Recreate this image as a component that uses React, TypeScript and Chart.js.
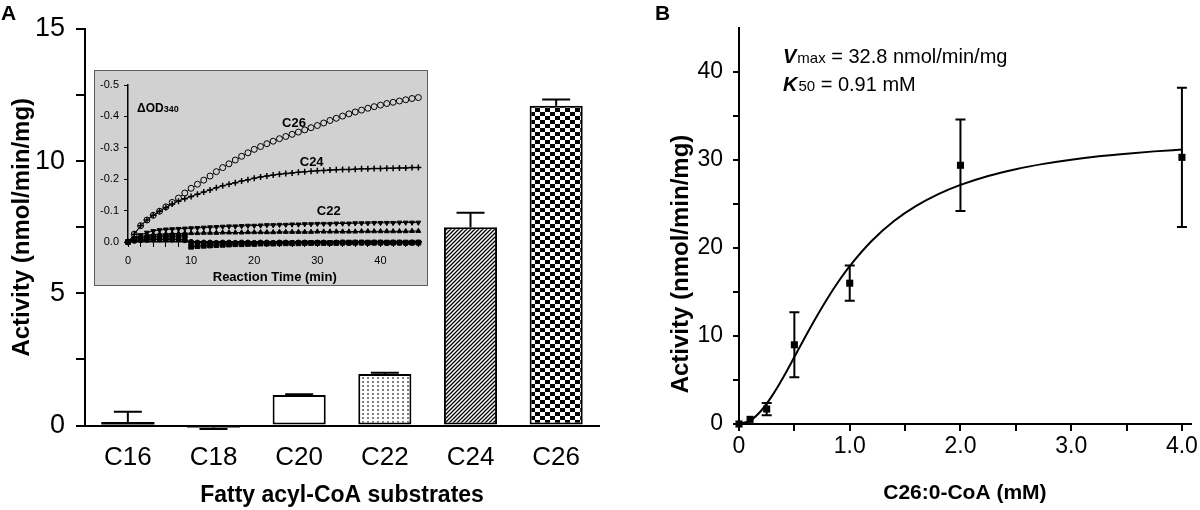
import React, { useEffect, useRef } from "react";
import { Chart, registerables } from "chart.js";

Chart.register(...registerables);

const FF = "'Liberation Sans', Arial, Helvetica, sans-serif";

// ---------------- Panel A: bar chart ----------------
const substrates = ["C16", "C18", "C20", "C22", "C24", "C26"];
const activity = [0.13, -0.08, 1.15, 1.95, 7.5, 12.1];
const activityErr = [0.39, 0.05, 0.03, 0.05, 0.55, 0.23];
const barFillKinds = ["solid", "solid", "white", "dots", "hatch", "check"];
const barBorderWidths = [0, 0, 2, 2, 2, 2];

// ---------------- Inset: ΔOD340 vs time ----------------
const timeMin = [
  0, 1, 2, 3, 4, 5, 6, 7, 8, 9, 10, 11, 12, 13, 14, 15, 16, 17, 18, 19, 20, 21, 22, 23,
  24, 25, 26, 27, 28, 29, 30, 31, 32, 33, 34, 35, 36, 37, 38, 39, 40, 41, 42, 43, 44, 45, 46,
];
const odC26 = [
  0, -0.025, -0.052, -0.07, -0.085, -0.098, -0.112, -0.126, -0.14, -0.156, -0.171, -0.184,
  -0.197, -0.21, -0.224, -0.237, -0.249, -0.261, -0.273, -0.284, -0.295, -0.304, -0.313,
  -0.321, -0.329, -0.336, -0.343, -0.35, -0.357, -0.364, -0.371, -0.379, -0.387, -0.394,
  -0.401, -0.408, -0.414, -0.42, -0.426, -0.431, -0.436, -0.441, -0.445, -0.449, -0.453,
  -0.457, -0.46,
];
const odC24 = [
  0, -0.025, -0.052, -0.07, -0.085, -0.098, -0.11, -0.121, -0.13, -0.138, -0.145, -0.152,
  -0.159, -0.166, -0.173, -0.179, -0.184, -0.189, -0.194, -0.198, -0.203, -0.207, -0.21,
  -0.213, -0.216, -0.218, -0.22, -0.222, -0.224, -0.225, -0.227, -0.228, -0.229, -0.23,
  -0.231, -0.231, -0.232, -0.233, -0.233, -0.234, -0.234, -0.235, -0.235, -0.236, -0.236,
  -0.237, -0.237,
];
const odC22 = [
  0, -0.012, -0.022, -0.03, -0.035, -0.038, -0.04, -0.041, -0.042, -0.043, -0.044, -0.045,
  -0.046, -0.047, -0.048, -0.049, -0.05, -0.05, -0.051, -0.052, -0.052, -0.053, -0.054,
  -0.054, -0.055, -0.055, -0.056, -0.056, -0.057, -0.057, -0.058, -0.058, -0.058, -0.059,
  -0.059, -0.059, -0.06, -0.06, -0.06, -0.061, -0.061, -0.061, -0.061, -0.062, -0.062,
  -0.062, -0.062,
];
const odC20 = [
  0, -0.01, -0.017, -0.021, -0.024, -0.025, -0.026, -0.027, -0.027, -0.028, -0.028,
  -0.028, -0.029, -0.029, -0.029, -0.03, -0.03, -0.03, -0.03, -0.031, -0.031, -0.031,
  -0.031, -0.031, -0.032, -0.032, -0.032, -0.032, -0.032, -0.032, -0.033, -0.033, -0.033,
  -0.033, -0.033, -0.033, -0.033, -0.034, -0.034, -0.034, -0.034, -0.034, -0.034, -0.034,
  -0.034, -0.035, -0.035,
];
const odC18 = [
  0, -0.008, -0.012, -0.015, -0.016, -0.017, -0.018, -0.018, -0.019, -0.02, 0.015, 0.013,
  0.012, 0.011, 0.01, 0.009, 0.008, 0.007, 0.007, 0.006, 0.006, 0.005, 0.005, 0.005, 0.004,
  0.004, 0.004, 0.004, 0.003, 0.003, 0.003, 0.003, 0.003, 0.003, 0.002, 0.002, 0.002, 0.002,
  0.002, 0.002, 0.002, 0.002, 0.002, 0.002, 0.002, 0.002, 0.002,
];
const odC16 = [
  0, -0.004, -0.006, -0.007, -0.008, -0.008, -0.008, -0.008, -0.008, -0.006, 0, 0.002,
  0.002, 0.002, 0.003, 0.002, 0.002, 0.003, 0.002, 0.002, 0.003, 0.002, 0.002, 0.003, 0.002,
  0.002, 0.003, 0.002, 0.002, 0.003, 0.002, 0.002, 0.003, 0.002, 0.002, 0.003, 0.002, 0.002,
  0.003, 0.002, 0.002, 0.003, 0.002, 0.002, 0.003, 0.002, 0.002,
];
const insetLabels = ["C26", "C24", "C22"];
const insetLabelT = [26.3, 29.1, 31.8];
const insetLabelOD = [-0.377, -0.252, -0.096];

// ---------------- Panel B: kinetics ----------------
const concMM = [0, 0.1, 0.25, 0.5, 1.0, 2.0, 4.0];
const rateB = [0, 0.53, 1.7, 9.0, 16.0, 29.4, 30.3];
const rateErrB = [0, 0.15, 0.7, 3.7, 2.0, 5.2, 7.9];
const fitConc = [
  0, 0.1, 0.2, 0.3, 0.4, 0.5, 0.6, 0.7, 0.8, 0.9, 1.0, 1.2, 1.4, 1.6, 1.8, 2.0, 2.25, 2.5,
  2.75, 3.0, 3.25, 3.5, 3.75, 4.0,
];
const fitRate = [
  0, 0.39, 1.51, 3.22, 5.31, 7.61, 9.94, 12.19, 14.3, 16.22, 17.94, 20.82, 23.06, 24.78,
  26.12, 27.17, 28.19, 28.96, 29.56, 30.04, 30.42, 30.72, 30.98, 31.19,
];
const vmaxText = " = 32.8 nmol/min/mg";
const k50Text = " = 0.91 mM";

function makeFill(kind: string): any {
  if (kind === "solid") return "#000";
  if (kind === "white") return "#fff";
  const c = document.createElement("canvas");
  if (kind === "dots") {
    c.width = 5;
    c.height = 4;
  } else if (kind === "hatch") {
    c.width = 4;
    c.height = 4;
  } else {
    c.width = 10;
    c.height = 8;
  }
  const g = c.getContext("2d")!;
  g.fillStyle = "#fff";
  g.fillRect(0, 0, c.width, c.height);
  if (kind === "dots") {
    g.fillStyle = "#808080";
    g.fillRect(2, 1, 2, 2);
  } else if (kind === "hatch") {
    g.strokeStyle = "#000";
    g.lineWidth = 1.3;
    g.beginPath();
    g.moveTo(-1, 5);
    g.lineTo(5, -1);
    g.moveTo(-1, 1);
    g.lineTo(1, -1);
    g.moveTo(3, 5);
    g.lineTo(5, 3);
    g.stroke();
  } else {
    g.fillStyle = "#000";
    g.fillRect(0, 0, 5, 4);
    g.fillRect(5, 4, 5, 4);
  }
  return g.createPattern(c, "repeat");
}

const errBarsA = {
  id: "errBarsA",
  afterDatasetsDraw(chart: any) {
    const meta = chart.getDatasetMeta(0);
    const ys = chart.scales.y;
    const ctx = chart.ctx;
    ctx.save();
    ctx.strokeStyle = "#000";
    ctx.lineWidth = 2;
    meta.data.forEach((el: any, i: number) => {
      const v = activity[i];
      const e = activityErr[i];
      const y0 = ys.getPixelForValue(v);
      const y1 = ys.getPixelForValue(v + (v < 0 ? -e : e));
      ctx.beginPath();
      ctx.moveTo(el.x, y0);
      ctx.lineTo(el.x, y1);
      ctx.moveTo(el.x - 14, y1);
      ctx.lineTo(el.x + 14, y1);
      ctx.stroke();
    });
    ctx.restore();
  },
};

const textA = {
  id: "textA",
  afterDraw(chart: any) {
    const ctx = chart.ctx;
    ctx.save();
    ctx.fillStyle = "#000";
    ctx.font = `bold 21px ${FF}`;
    ctx.textAlign = "left";
    ctx.textBaseline = "alphabetic";
    ctx.fillText("A", 1, 20);
    ctx.restore();
  },
};

const textInset = {
  id: "textInset",
  afterDraw(chart: any) {
    const ctx = chart.ctx;
    const xs = chart.scales.x;
    const ys = chart.scales.y;
    ctx.save();
    ctx.fillStyle = "#000";
    ctx.textBaseline = "alphabetic";
    ctx.textAlign = "left";
    ctx.font = `bold 12px ${FF}`;
    const w = ctx.measureText("ΔOD").width;
    ctx.fillText("ΔOD", 42, 41);
    ctx.font = `bold 9px ${FF}`;
    ctx.fillText("340", 42 + w, 41);
    ctx.font = `bold 13px ${FF}`;
    ctx.textAlign = "center";
    ctx.textBaseline = "middle";
    insetLabels.forEach((t, i) => {
      ctx.fillText(t, xs.getPixelForValue(insetLabelT[i]), ys.getPixelForValue(insetLabelOD[i]));
    });
    ctx.restore();
  },
};

const errBarsB = {
  id: "errBarsB",
  afterDatasetsDraw(chart: any) {
    const xs = chart.scales.x;
    const ys = chart.scales.y;
    const ctx = chart.ctx;
    ctx.save();
    ctx.strokeStyle = "#000";
    ctx.lineWidth = 2;
    concMM.forEach((c, i) => {
      const e = rateErrB[i];
      if (e < 0.3) return;
      const x = xs.getPixelForValue(c);
      const yT = ys.getPixelForValue(rateB[i] + e);
      const yB = ys.getPixelForValue(rateB[i] - e);
      ctx.beginPath();
      ctx.moveTo(x, yT);
      ctx.lineTo(x, yB);
      ctx.moveTo(x - 5, yT);
      ctx.lineTo(x + 5, yT);
      ctx.moveTo(x - 5, yB);
      ctx.lineTo(x + 5, yB);
      ctx.stroke();
    });
    ctx.restore();
  },
};

const textB = {
  id: "textB",
  afterDraw(chart: any) {
    const ctx = chart.ctx;
    ctx.save();
    ctx.fillStyle = "#000";
    ctx.textAlign = "left";
    ctx.textBaseline = "alphabetic";
    ctx.font = `bold 21px ${FF}`;
    ctx.fillText("B", 45, 20);
    // y title
    ctx.save();
    ctx.translate(71, 264);
    ctx.rotate(-Math.PI / 2);
    ctx.textAlign = "center";
    ctx.textBaseline = "middle";
    ctx.font = `bold 24px ${FF}`;
    ctx.fillText("Activity (nmol/min/mg)", 0, 0);
    ctx.restore();
    // Vmax / K50 annotation
    const rows = [
      { main: "V", sub: "max", rest: vmaxText, y: 63 },
      { main: "K", sub: "50", rest: k50Text, y: 91 },
    ];
    rows.forEach((r) => {
      let x = 173;
      ctx.font = `italic bold 20px ${FF}`;
      ctx.fillText(r.main, x, r.y);
      x += ctx.measureText(r.main).width + 1;
      ctx.font = `15px ${FF}`;
      ctx.fillText(r.sub, x, r.y);
      x += ctx.measureText(r.sub).width;
      ctx.font = `20px ${FF}`;
      ctx.fillText(r.rest, x, r.y);
    });
    ctx.restore();
  },
};

export default function App() {
  const aRef = useRef<HTMLCanvasElement>(null);
  const insetRef = useRef<HTMLCanvasElement>(null);
  const bRef = useRef<HTMLCanvasElement>(null);

  useEffect(() => {
    const charts: any[] = [];

    // ---------- Panel A ----------
    charts.push(
      new Chart(aRef.current!, {
        type: "bar",
        data: {
          labels: substrates,
          datasets: [
            {
              data: activity,
              backgroundColor: barFillKinds.map(makeFill),
              borderColor: "#000",
              borderWidth: barBorderWidths,
              borderSkipped: false,
              barPercentage: 0.62,
              categoryPercentage: 1,
              clip: false,
            } as any,
          ],
        },
        options: {
          animation: false,
          responsive: false,
          events: [],
          layout: { padding: { top: 29, right: 11, left: 0, bottom: 0 } },
          plugins: { legend: { display: false }, tooltip: { enabled: false } },
          scales: {
            x: {
              grid: { display: false, drawTicks: false },
              border: { color: "#000", width: 2 },
              ticks: { color: "#000", font: { family: FF, size: 26 }, padding: 17 },
              title: {
                display: true,
                text: "Fatty acyl-CoA substrates",
                color: "#000",
                font: { family: FF, size: 23, weight: "bold" },
                padding: { top: 0, bottom: 1 },
              },
              afterFit: (s: any) => {
                s.height = 84.5;
              },
            },
            y: {
              min: 0,
              max: 15,
              ticks: {
                stepSize: 2.5,
                includeBounds: false,
                autoSkip: false,
                color: "#000",
                font: { family: FF, size: 27 },
                padding: 11,
                callback: (v: any) => (Number(v) % 5 === 0 ? String(v) : ""),
              },
              grid: {
                drawOnChartArea: false,
                tickLength: 9,
                lineWidth: 2,
                color: "#000",
              },
              border: { color: "#000", width: 2 },
              title: {
                display: true,
                text: "Activity (nmol/min/mg)",
                color: "#000",
                font: { family: FF, size: 24, weight: "bold" },
                padding: { top: 8, bottom: 0 },
              },
              afterFit: (s: any) => {
                s.width = 85;
              },
            },
          },
        } as any,
        plugins: [errBarsA, textA],
      })
    );

    // ---------- Inset ----------
    const mk = (arr: number[]) => timeMin.map((t, i) => ({ x: t, y: arr[i] }));
    const insetBg = "#d1d1d1";
    const common = { borderColor: "#000", borderWidth: 1, clip: false, tension: 0 };
    charts.push(
      new Chart(insetRef.current!, {
        type: "line",
        data: {
          datasets: [
            { ...common, data: mk(odC16), pointStyle: "circle", pointRadius: 2.6, pointBackgroundColor: "#000", pointBorderColor: "#000" },
            { ...common, data: mk(odC18), pointStyle: "rect", pointRadius: 3.4, pointBackgroundColor: "#000", pointBorderColor: "#000" },
            { ...common, data: mk(odC20), pointStyle: "triangle", pointRadius: 2.8, pointBackgroundColor: "#000", pointBorderColor: "#000" },
            { ...common, data: mk(odC22), pointStyle: "triangle", pointRotation: 180, pointRadius: 2.8, pointBackgroundColor: "#000", pointBorderColor: "#000" },
            { ...common, data: mk(odC24), pointStyle: "cross", pointRadius: 3, pointBorderWidth: 1.5, pointBackgroundColor: "#000", pointBorderColor: "#000" },
            { ...common, data: mk(odC26), pointStyle: "circle", pointRadius: 3, pointBorderWidth: 1, pointBackgroundColor: insetBg, pointBorderColor: "#000" },
          ] as any,
        },
        options: {
          animation: false,
          responsive: false,
          events: [],
          layout: { padding: { top: 14, right: 4, left: 0, bottom: 0 } },
          plugins: { legend: { display: false }, tooltip: { enabled: false } },
          scales: {
            x: {
              type: "linear",
              min: 0,
              max: 46.5,
              ticks: {
                stepSize: 2,
                includeBounds: false,
                autoSkip: false,
                maxRotation: 0,
                color: "#000",
                font: { family: FF, size: 11 },
                padding: 7,
                callback: (v: any) => (Number(v) % 10 === 0 ? String(v) : ""),
              },
              grid: { drawOnChartArea: false, tickLength: 5, color: "#000", lineWidth: 1 },
              border: { color: "#000", width: 1.5 },
              title: {
                display: true,
                text: "Reaction Time (min)",
                color: "#000",
                font: { family: FF, size: 13, weight: "bold" },
                padding: { top: 0, bottom: 0 },
              },
              afterFit: (s: any) => {
                s.height = 43;
              },
            },
            y: {
              min: -0.5,
              max: 0,
              reverse: true,
              ticks: {
                stepSize: 0.1,
                color: "#000",
                font: { family: FF, size: 11 },
                padding: 5,
                callback: (v: any) => (Math.abs(Number(v)) < 1e-9 ? "0.0" : Number(v).toFixed(1)),
              },
              grid: { drawOnChartArea: false, tickLength: 4, color: "#000", lineWidth: 1 },
              border: { color: "#000", width: 1.5 },
              afterFit: (s: any) => {
                s.width = 33;
              },
            },
          },
        } as any,
        plugins: [textInset],
      })
    );

    // ---------- Panel B ----------
    charts.push(
      new Chart(bRef.current!, {
        type: "scatter",
        data: {
          datasets: [
            {
              data: fitConc.map((c, i) => ({ x: c, y: fitRate[i] })),
              showLine: true,
              borderColor: "#000",
              borderWidth: 2,
              pointRadius: 0,
              cubicInterpolationMode: "monotone",
              clip: false,
            },
            {
              data: concMM.map((c, i) => ({ x: c, y: rateB[i] })),
              showLine: false,
              pointStyle: "rect",
              pointRadius: 5,
              pointBackgroundColor: "#000",
              pointBorderColor: "#000",
              pointBorderWidth: 0,
              clip: false,
            },
          ] as any,
        },
        options: {
          animation: false,
          responsive: false,
          events: [],
          layout: { padding: { top: 28, right: 5, left: 0, bottom: 0 } },
          plugins: { legend: { display: false }, tooltip: { enabled: false } },
          scales: {
            x: {
              type: "linear",
              min: 0,
              max: 4.08,
              ticks: {
                stepSize: 0.5,
                includeBounds: false,
                autoSkip: false,
                maxRotation: 0,
                color: "#000",
                font: { family: FF, size: 23 },
                padding: 2,
                callback: (v: any) => {
                  const n = Number(v);
                  if (!Number.isInteger(n)) return "";
                  return n === 0 ? "0" : n.toFixed(1);
                },
              },
              grid: { drawOnChartArea: false, tickLength: 7, color: "#000", lineWidth: 2 },
              border: { color: "#000", width: 2 },
              title: {
                display: true,
                text: "C26:0-CoA (mM)",
                color: "#000",
                font: { family: FF, size: 21, weight: "bold" },
                padding: { top: 0, bottom: 4 },
              },
              afterFit: (s: any) => {
                s.height = 86;
              },
            },
            y: {
              min: 0,
              max: 45,
              ticks: {
                stepSize: 5,
                includeBounds: false,
                autoSkip: false,
                color: "#000",
                font: { family: FF, size: 23 },
                padding: 10,
                callback: (v: any) => (Number(v) % 10 === 0 ? String(v) : ""),
              },
              afterBuildTicks: (s: any) => {
                s.ticks = s.ticks.filter((t: any) => t.value <= 40);
              },
              grid: { drawOnChartArea: false, tickLength: 6, color: "#000", lineWidth: 2 },
              border: { color: "#000", width: 2 },
              afterFit: (s: any) => {
                s.width = 129;
              },
            },
          },
        } as any,
        plugins: [errBarsB, textB],
      })
    );

    return () => charts.forEach((c) => c.destroy());
  }, []);

  return (
    <div
      style={{
        position: "absolute",
        left: 0,
        top: 0,
        width: 1200,
        height: 510,
        background: "#fff",
        overflow: "hidden",
      }}
    >
      <canvas
        ref={aRef}
        width={610}
        height={510}
        style={{ position: "absolute", left: 0, top: 0, width: 610, height: 510 }}
      />
      <div
        style={{
          position: "absolute",
          left: 94,
          top: 70,
          width: 334,
          height: 216,
          boxSizing: "border-box",
          border: "1px solid #5c5c5c",
          background: "#d1d1d1",
        }}
      >
        <canvas
          ref={insetRef}
          width={332}
          height={214}
          style={{ position: "absolute", left: 0, top: 0, width: 332, height: 214 }}
        />
      </div>
      <canvas
        ref={bRef}
        width={590}
        height={510}
        style={{ position: "absolute", left: 610, top: 0, width: 590, height: 510 }}
      />
    </div>
  );
}
